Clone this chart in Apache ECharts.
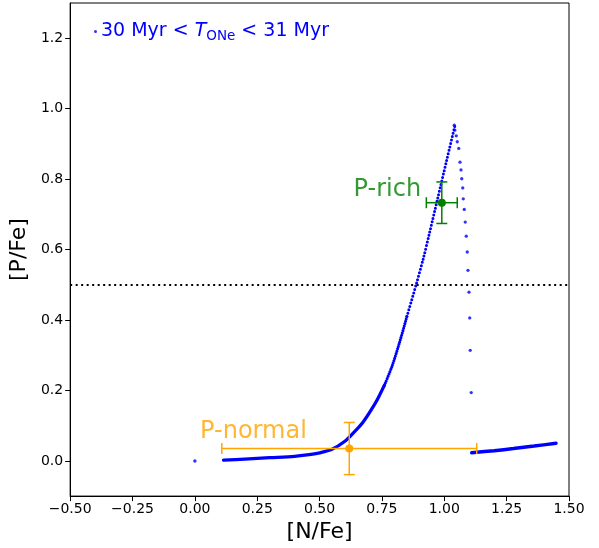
<!DOCTYPE html>
<html>
<head>
<meta charset="utf-8">
<script src="https://cdn.jsdelivr.net/npm/echarts@6/dist/echarts.min.js"></script>
<style>html,body{margin:0;padding:0;background:#fff}#c{width:599px;height:548px}</style>
</head>
<body>
<div id="c"></div>
<script>
// ---- data ----
const originPoint = [[0.0, 0.0]];
const risingSolid = [[0.115,0.002],[0.20,0.005],[0.30,0.009],[0.40,0.013],[0.45,0.017],[0.50,0.023],[0.55,0.033],[0.60,0.055],[0.635,0.079],[0.67,0.106],[0.70,0.137],[0.73,0.172],[0.76,0.215]];
const risingDense = [[0.76,0.215],[0.79,0.268],[0.82,0.335],[0.85,0.41]];
const risingDotted = [[0.85,0.41],[0.887,0.50],[0.916,0.575],[0.94,0.645],[0.975,0.75],[1.01,0.855],[1.043,0.953]];
const descending = [[1.040,0.953],[1.042,0.939],[1.048,0.923],[1.052,0.906],[1.058,0.887],[1.063,0.848],[1.067,0.826],[1.070,0.801],[1.074,0.775],[1.076,0.744],[1.080,0.714],[1.084,0.678],[1.088,0.638],[1.092,0.593],[1.095,0.541],[1.099,0.479],[1.102,0.406],[1.104,0.314],[1.108,0.194]];
const tailBranch = [[1.110,0.023],[1.20,0.029],[1.277,0.035],[1.36,0.042],[1.448,0.050]];
const pRich = [[0.99, 0.733, 0.062, 0.059]];   // x, y, xerr, yerr
const pNormal = [[0.619, 0.035, 0.511, 0.074]];
const pRichLabel = [[0.907, 0.769]];
const pNormalLabel = [[0.021, 0.084]];
const yTicks = [0.0, 0.2, 0.4, 0.6, 0.8, 1.0, 1.2];
const refLineY = 0.5;

const FONT = 'DejaVu Sans';
const chart = echarts.init(document.getElementById('c'), null, {renderer: 'canvas'});

function errRender(color) {
  return function (params, api) {
    const x = api.value(0), y = api.value(1), xe = api.value(2), ye = api.value(3);
    const c = api.coord([x, y]);
    const l = api.coord([x - xe, y]), r = api.coord([x + xe, y]);
    const t = api.coord([x, y + ye]), b = api.coord([x, y - ye]);
    const cap = 5.5;
    const st = {stroke: color, lineWidth: 1.5};
    return {
      type: 'group',
      children: [
        {type: 'line', shape: {x1: l[0], y1: l[1], x2: r[0], y2: r[1]}, style: st},
        {type: 'line', shape: {x1: t[0], y1: t[1], x2: b[0], y2: b[1]}, style: st},
        {type: 'line', shape: {x1: l[0], y1: l[1]-cap, x2: l[0], y2: l[1]+cap}, style: st},
        {type: 'line', shape: {x1: r[0], y1: r[1]-cap, x2: r[0], y2: r[1]+cap}, style: st},
        {type: 'line', shape: {x1: t[0]-cap, y1: t[1], x2: t[0]+cap, y2: t[1]}, style: st},
        {type: 'line', shape: {x1: b[0]-cap, y1: b[1], x2: b[0]+cap, y2: b[1]}, style: st},
        {type: 'circle', shape: {cx: c[0], cy: c[1], r: 4}, style: {fill: color}}
      ]
    };
  };
}

const fmtNum = (v, d) => (v < 0 ? '\u2212' : '') + Math.abs(v).toFixed(d);

chart.setOption({
  animation: false,
  backgroundColor: '#fff',
  grid: {left: 70, right: 30, top: 3, bottom: 51, show: true, borderColor: '#000', borderWidth: 1, containLabel: false},
  legend: {
    left: 89, top: 17,
    icon: 'circle', itemWidth: 3, itemHeight: 3, itemGap: 0,
    data: ['track'],
    formatter: function () { return '{n|30 Myr < }{t|T}{s|ONe}{n| < 31 Myr}'; },
    textStyle: {
      color: '#0000ff', fontFamily: FONT, fontSize: 19, padding: [0,0,0,-1],
      rich: {
        n: {color: '#0000ff', fontFamily: FONT, fontSize: 19},
        t: {color: '#0000ff', fontFamily: FONT, fontSize: 19, fontStyle: 'italic'},
        s: {color: '#0000ff', fontFamily: FONT, fontSize: 13.5, padding: [9,0,0,0]}
      }
    }
  },
  xAxis: {
    type: 'value', min: -0.5, max: 1.5, interval: 0.25,
    name: '[N/Fe]', nameLocation: 'middle', nameGap: 21,
    nameTextStyle: {fontFamily: FONT, fontSize: 22, color: '#000', verticalAlign: 'top'},
    axisLine: {show: true, onZero: false, lineStyle: {color: '#000', width: 1}},
    axisTick: {show: true, inside: false, length: 5, lineStyle: {color: '#000'}},
    axisLabel: {fontFamily: FONT, fontSize: 14, color: '#000', margin: 6, formatter: v => fmtNum(v, 2)},
    splitLine: {show: false}
  },
  yAxis: {
    type: 'value', min: -0.1, max: 1.3,
    name: '[P/Fe]', nameLocation: 'middle', nameGap: 33, nameRotate: 90,
    nameTextStyle: {fontFamily: FONT, fontSize: 22, color: '#000'},
    axisLine: {show: true, onZero: false, lineStyle: {color: '#000', width: 1}},
    axisTick: {show: true, inside: false, length: 5, customValues: yTicks, lineStyle: {color: '#000'}},
    axisLabel: {fontFamily: FONT, fontSize: 14, color: '#000', margin: 7, customValues: yTicks, formatter: v => fmtNum(v, 1)},
    splitLine: {show: false}
  },
  series: [
    {
      type: 'line', name: 'ref', data: [], silent: true,
      markLine: {
        silent: true, symbol: 'none', label: {show: false},
        lineStyle: {color: '#000', width: 2, type: [2, 3.5], cap: 'butt'},
        data: [{yAxis: refLineY}]
      }
    },
    {type: 'scatter', name: 'origin', data: originPoint, symbol: 'circle', symbolSize: 3.5, itemStyle: {color: '#0000ff'}, z: 3},
    {type: 'line', name: 'risingSolid', data: risingSolid, smooth: 0.3, showSymbol: false, symbol: 'none',
      lineStyle: {color: '#0000ff', width: 3.3, cap: 'round', join: 'round'}, z: 3},
    {type: 'line', name: 'risingDense', data: risingDense, smooth: 0.3, showSymbol: false, symbol: 'none',
      lineStyle: {color: '#0000ff', width: 3.1, type: [0, 2.4], cap: 'round'}, z: 3},
    {type: 'line', name: 'risingDotted', data: risingDotted, smooth: 0.3, showSymbol: false, symbol: 'none',
      lineStyle: {color: '#0000ff', width: 3.0, type: [0, 3.5], cap: 'round'}, z: 3},
    {type: 'scatter', name: 'track', data: descending, symbol: 'circle', symbolSize: 3.3, itemStyle: {color: '#0000ff'}, z: 3},
    {type: 'line', name: 'tail', data: tailBranch, smooth: 0.3, showSymbol: false, symbol: 'none',
      lineStyle: {color: '#0000ff', width: 3.5, cap: 'round'}, z: 3},
    {type: 'custom', name: 'pnormal', data: pNormal, renderItem: errRender('#ffa500'), z: 5},
    {type: 'custom', name: 'prich', data: pRich, renderItem: errRender('#008000'), z: 5},
    {type: 'scatter', name: 'lblRich', data: pRichLabel, symbolSize: 0, silent: true,
      label: {show: true, position: 'left', distance: 0, formatter: 'P-rich', color: '#008000', fontFamily: FONT, fontSize: 24}, z: 6},
    {type: 'scatter', name: 'lblNormal', data: pNormalLabel, symbolSize: 0, silent: true,
      label: {show: true, position: 'right', distance: 0, formatter: 'P-normal', color: '#ffa500', fontFamily: FONT, fontSize: 24}, z: 6}
  ]
});
</script>
</body>
</html>
